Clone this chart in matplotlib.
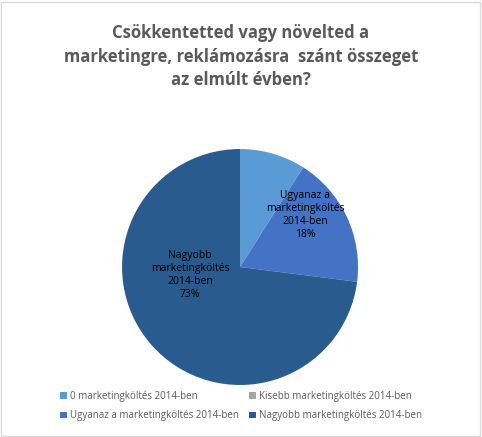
import matplotlib
matplotlib.use("Agg")
import matplotlib.pyplot as plt
from matplotlib.patches import Patch

categories = ["0 marketingköltés 2014-ben", "Kisebb marketingköltés 2014-ben",
              "Ugyanaz a marketingköltés 2014-ben", "Nagyobb marketingköltés 2014-ben"]
values = [9, 0, 18, 73]
colors = ["#5B9BD5", "#A5A5A5", "#4472C4", "#2A5B8F"]

plt.rcParams['font.family'] = ['Open Sans', 'DejaVu Sans']
fig = plt.figure(figsize=(4.82, 4.37), dpi=100)
fig.patch.set_facecolor("white")
fig.add_artist(plt.Rectangle((0.002, 0.002), 0.994, 0.994, fill=False, edgecolor="#D9D9D9", lw=1, transform=fig.transFigure))

ax = fig.add_axes([0.253, 0.119, 0.49, 0.54])
ax.pie(values, colors=colors, startangle=90, counterclock=False,
       wedgeprops=dict(linewidth=0))
ax.set_xlim(-1, 1)
ax.set_ylim(-1, 1)
ax.set_aspect("equal")

fig.text(0.5, 0.87, "Csökkentetted vagy növelted a\nmarketingre, reklámozásra  szánt összeget\naz elmúlt évben?",
         ha="center", va="center", fontsize=12, fontweight="bold", color="#595959", linespacing=1.4)

fig.text(305/482, 1-215/437, "Ugyanaz a\nmarketingköltés\n2014-ben\n18%", ha="center", va="center",
         fontsize=7.5, color="black", linespacing=1.25)
fig.text(190/482, 1-275/437, "Nagyobb\nmarketingköltés\n2014-ben\n73%", ha="center", va="center",
         fontsize=7.5, color="black", linespacing=1.25)

order = [0, 2, 1, 3]
handles = [Patch(facecolor=colors[i], edgecolor="none") for i in order]
labels = [categories[i] for i in order]
fig.legend(handles, labels, loc="center", bbox_to_anchor=(0.5, 1-406/437), ncol=2,
           frameon=False, fontsize=7, handlelength=0.7, handleheight=0.7, handletextpad=0.3,
           columnspacing=1.0, labelspacing=0.9, labelcolor="#595959")

fig.savefig("out.png", dpi=100)
